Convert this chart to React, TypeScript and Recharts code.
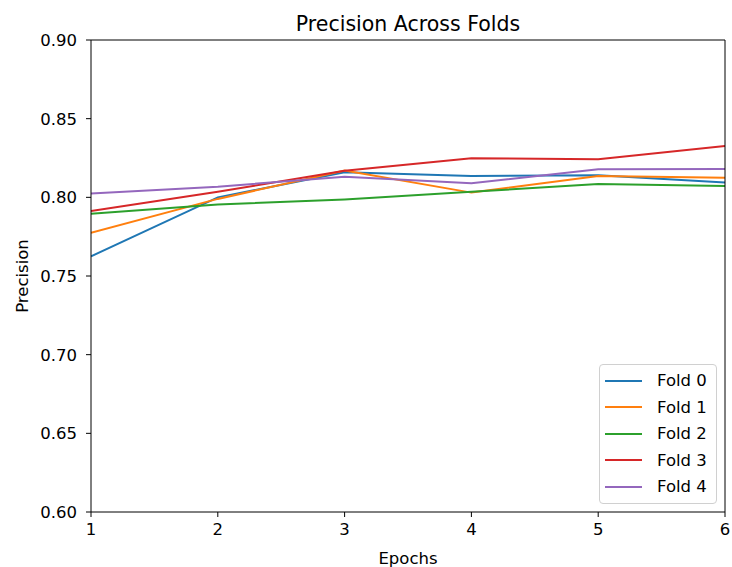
import React from 'react';
import { LineChart, Line, XAxis, YAxis, Legend } from 'recharts';

const epochs = [1, 2, 3, 4, 5, 6];
const fold0 = [0.7625, 0.8, 0.816, 0.8135, 0.814, 0.8095];
const fold1 = [0.7775, 0.799, 0.817, 0.803, 0.8135, 0.8125];
const fold2 = [0.7895, 0.7955, 0.7987, 0.8035, 0.8085, 0.8072];
const fold3 = [0.7913, 0.8035, 0.8169, 0.8248, 0.8242, 0.8326];
const fold4 = [0.8025, 0.8068, 0.8131, 0.8089, 0.8178, 0.818];
const yTicks = [0.6, 0.65, 0.7, 0.75, 0.8, 0.85, 0.9];

const seriesNames = ['Fold 0', 'Fold 1', 'Fold 2', 'Fold 3', 'Fold 4'];
const seriesValues = [fold0, fold1, fold2, fold3, fold4];
const colors = ['#1f77b4', '#ff7f0e', '#2ca02c', '#d62728', '#9467bd'];

const data = epochs.map((e, i) => {
  const row: Record<string, number> = { epoch: e };
  seriesNames.forEach((n, k) => {
    row[n] = seriesValues[k][i];
  });
  return row;
});

const FONT = 'DejaVu Sans, sans-serif';
const FS = 16.5;

const renderLegend = () => (
  <div
    style={{
      width: 118,
      boxSizing: 'border-box',
      border: '1px solid #d0d0d0',
      borderRadius: 4,
      background: 'rgba(255,255,255,0.8)',
      padding: '2.5px 0 3px 0',
      fontFamily: FONT,
      fontSize: FS,
      color: '#000',
    }}
  >
    {seriesNames.map((n, k) => (
      <div key={n} style={{ display: 'flex', alignItems: 'center', height: 26.5 }}>
        <div style={{ width: 37, height: 2, background: colors[k], marginLeft: 5, marginRight: 15 }} />
        <span>{n}</span>
      </div>
    ))}
  </div>
);

export default function App() {
  return (
    <div style={{ position: 'absolute', left: 0, top: 0, background: '#fff' }}>
      <LineChart
        width={732}
        height={567}
        data={data}
        margin={{ top: 39, right: 6, bottom: 0, left: 0 }}
      >
        <XAxis
          dataKey="epoch"
          type="number"
          domain={[1, 6]}
          ticks={epochs}
          allowDataOverflow
          stroke="#000"
          tickSize={5}
          height={55}
          tick={{ fill: '#000', fontSize: FS, fontFamily: FONT }}
          tickMargin={6}
          label={{ value: 'Epochs', position: 'insideBottom', offset: 3, fill: '#000', fontSize: FS, fontFamily: FONT }}
        />
        <XAxis
          xAxisId="top"
          dataKey="epoch"
          type="number"
          domain={[1, 6]}
          orientation="top"
          tick={false}
          tickLine={false}
          height={1}
          stroke="#000"
          label={{ value: 'Precision Across Folds', position: 'top', offset: 8, fill: '#000', fontSize: 20.5, fontFamily: FONT }}
        />
        <YAxis
          type="number"
          domain={[0.6, 0.9]}
          ticks={yTicks}
          allowDataOverflow
          width={91}
          stroke="#000"
          tickSize={5}
          tickMargin={9}
          tickFormatter={(v: number) => v.toFixed(2)}
          tick={{ fill: '#000', fontSize: FS, fontFamily: FONT }}
          label={{ value: 'Precision', angle: -90, position: 'insideLeft', offset: 22, fill: '#000', fontSize: FS, fontFamily: FONT, style: { textAnchor: 'middle' } }}
        />
        <YAxis
          yAxisId="right"
          orientation="right"
          domain={[0.6, 0.9]}
          tick={false}
          tickLine={false}
          width={1}
          stroke="#000"
        />
        <Legend
          layout="vertical"
          align="center"
          verticalAlign="middle"
          content={renderLegend}
          wrapperStyle={{ position: 'absolute', left: 599, top: 364, width: 118, height: 'auto' }}
        />
        {seriesNames.map((n, k) => (
          <Line
            key={n}
            dataKey={n}
            name={n}
            stroke={colors[k]}
            strokeWidth={2}
            dot={false}
            activeDot={false}
            isAnimationActive={false}
            type="linear"
          />
        ))}
      </LineChart>
    </div>
  );
}
